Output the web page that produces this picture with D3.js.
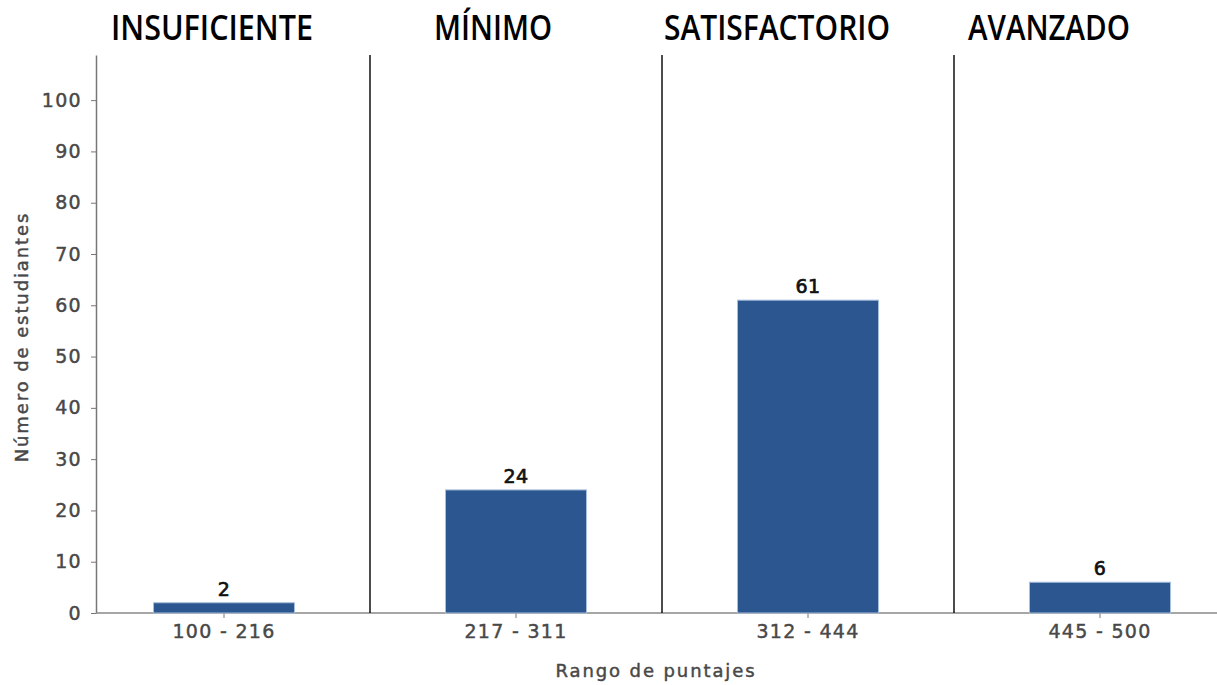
<!DOCTYPE html>
<html>
<head>
<meta charset="utf-8">
<script src="https://cdn.jsdelivr.net/npm/d3@7"></script>
<style>
  body { margin: 0; background: #fff; }
  .tick text { font-family: "DejaVu Sans", sans-serif; fill: #484848; stroke: #484848; stroke-width: 0.45px; letter-spacing: 1.3px; }
  .axis-title { font-family: "DejaVu Sans", sans-serif; font-size: 18px; fill: #484848; stroke: #484848; stroke-width: 0.45px; letter-spacing: 1.9px; }
</style>
</head>
<body>
<svg class="chart"></svg>
<script>
let width = 1217, height = 685;

// data
let ranges = ["100 - 216", "217 - 311", "312 - 444", "445 - 500"];
let counts = [2, 24, 61, 6];
let levels = ["INSUFICIENTE", "MÍNIMO", "SATISFACTORIO", "AVANZADO"];
let levelCenters = [212, 493, 777, 1049]; // title centres (px)
let levelWidths = [202, 118, 226, 162];
let yTicks = [0, 10, 20, 30, 40, 50, 60, 70, 80, 90, 100];

let svg = d3.select(".chart")
  .attr("width", width)
  .attr("height", height);

// scales
let x = d3.scaleBand()
  .domain(ranges)
  .range([78, 1246])
  .padding(0);

let y = d3.scaleLinear()
  .domain([0, 108.8])
  .range([613, 55]);

let barW = x.bandwidth() * 0.483;

// y axis
let yAxis = svg.append("g")
  .attr("transform", "translate(96,0)")
  .call(d3.axisLeft(y).tickValues(yTicks).tickSize(5).tickSizeOuter(0));
yAxis.select(".domain").attr("stroke", "#777").attr("stroke-width", 1.5);
yAxis.selectAll(".tick line").attr("stroke", "#777");
yAxis.selectAll(".tick text").attr("font-size", 19).attr("x", -14);

// x axis
let xAxis = svg.append("g")
  .attr("transform", "translate(0,613)")
  .call(d3.axisBottom(x).tickSize(5).tickSizeOuter(0));
xAxis.select(".domain").attr("d", "M96,0H1217").attr("stroke", "#888").attr("stroke-width", 1.5);
xAxis.selectAll(".tick line").attr("stroke", "#777");
xAxis.selectAll(".tick text").attr("font-size", 19).attr("y", 12);

// level dividers
svg.append("g").selectAll("line")
  .data(ranges.slice(1))
  .enter().append("line")
  .attr("x1", d => x(d))
  .attr("x2", d => x(d))
  .attr("y1", y.range()[1])
  .attr("y2", y(0))
  .attr("stroke", "#111")
  .attr("stroke-width", 1.5);

// bars
svg.append("g").selectAll("rect")
  .data(counts)
  .enter().append("rect")
  .attr("x", (d, i) => x(ranges[i]) + x.bandwidth() / 2 - barW / 2)
  .attr("y", d => y(d))
  .attr("width", barW)
  .attr("height", d => y(0) - y(d))
  .attr("fill", "#2b5690")
  .attr("stroke", "#a8bfdc")
  .attr("stroke-width", 1);

// value labels
svg.append("g").selectAll("text")
  .data(counts)
  .enter().append("text")
  .attr("x", (d, i) => x(ranges[i]) + x.bandwidth() / 2)
  .attr("y", d => y(d) - 7)
  .attr("text-anchor", "middle")
  .style("font-family", "'DejaVu Sans', sans-serif")
  .style("font-size", "19px")
  .style("letter-spacing", "0.5px")
  .style("fill", "#111")
  .style("stroke", "#111")
  .style("stroke-width", "0.7px")
  .text(d => d);

// level titles
svg.append("g").selectAll("text")
  .data(levels)
  .enter().append("text")
  .attr("x", (d, i) => levelCenters[i])
  .attr("y", 40)
  .attr("text-anchor", "middle")
  .attr("textLength", (d, i) => levelWidths[i])
  .attr("lengthAdjust", "spacingAndGlyphs")
  .style("font-family", "'Open Sans', sans-serif")
  .style("font-weight", 600)
  .style("font-size", "35px")
  .style("fill", "#000")
  .text(d => d);

// axis titles
svg.append("text")
  .attr("class", "axis-title")
  .attr("x", 656)
  .attr("y", 677)
  .attr("text-anchor", "middle")
  .text("Rango de puntajes");

svg.append("text")
  .attr("class", "axis-title")
  .attr("transform", "translate(28,337) rotate(-90)")
  .attr("text-anchor", "middle")
  .text("Número de estudiantes");
</script>
</body>
</html>
